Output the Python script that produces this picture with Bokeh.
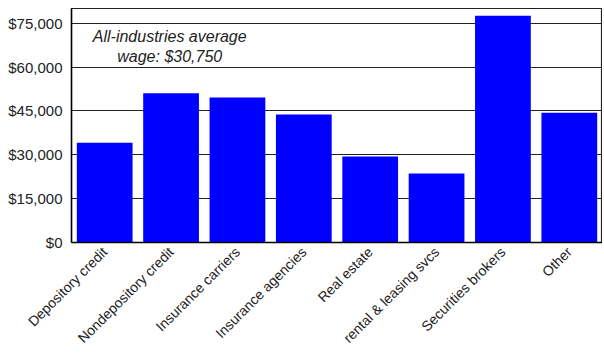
from bokeh.plotting import figure
from bokeh.models import ColumnDataSource, Label, NumeralTickFormatter, FixedTicker, Range1d
from bokeh.embed import file_html
from bokeh.resources import INLINE
import math

categories = ["Depository credit", "Nondepository credit", "Insurance carriers",
              "Insurance agencies", "Real estate", "rental & leasing svcs",
              "Securities brokers", "Other"]
wages = [34100, 51000, 49600, 43800, 29400, 23600, 77500, 44400]
y_ticks = [0, 15000, 30000, 45000, 60000, 75000]
note = "All-industries average\nwage: $30,750"

FONT = "Liberation Sans"

src = ColumnDataSource(dict(cat=categories, wage=wages))

p = figure(x_range=categories, y_range=Range1d(0, 80000),
           width=602, height=354, output_backend="svg", toolbar_location=None,
           min_border_left=71, min_border_right=0, min_border_top=8, min_border_bottom=112)

p.vbar(x="cat", top="wage", width=0.84, source=src, color="#0000FF", line_color=None)

p.yaxis.ticker = FixedTicker(ticks=y_ticks)
p.yaxis.formatter = NumeralTickFormatter(format="$0,0")
p.yaxis.major_label_text_font = FONT
p.yaxis.major_label_text_font_size = "15px"
p.yaxis.major_label_text_color = "#222222"
p.yaxis.major_tick_out = 0
p.yaxis.major_tick_in = 0
p.yaxis.minor_tick_out = 0
p.yaxis.minor_tick_in = 0
p.yaxis.major_label_standoff = 9
p.yaxis.axis_line_color = "black"
p.yaxis.axis_line_width = 1.5

p.xaxis.major_label_orientation = math.pi / 4
p.xaxis.major_label_text_font = FONT
p.xaxis.major_label_text_font_size = "14px"
p.xaxis.major_label_text_color = "#222222"
p.xaxis.major_tick_out = 0
p.xaxis.major_tick_in = 0
p.xaxis.major_label_standoff = 7
p.xaxis.axis_line_color = "black"
p.xaxis.axis_line_width = 1.5

p.xgrid.grid_line_color = None
p.ygrid.grid_line_color = "#222222"
p.ygrid.grid_line_width = 1.2

p.outline_line_color = "#222222"
p.outline_line_width = 1.2
p.background_fill_color = "white"
p.border_fill_color = "white"

lab = Label(x=1.48, y=73300, text=note, text_font=FONT, text_font_size="16px",
            text_font_style="italic", text_align="center", text_baseline="top",
            text_color="#222222", text_line_height=1.15)
p.add_layout(lab)

open("out.html", "w").write(file_html(p, INLINE))
